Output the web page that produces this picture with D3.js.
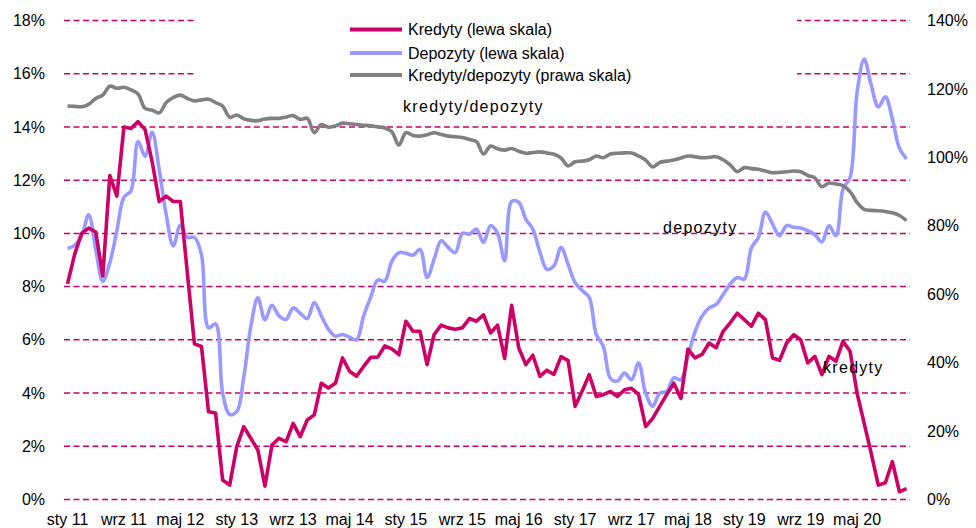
<!DOCTYPE html>
<html>
<head>
<meta charset="utf-8">
<script src="https://cdn.jsdelivr.net/npm/d3@7"></script>
<style>
  body { margin: 0; background: #fff; }
  svg { display: block; font-family: "Liberation Sans", Arial, sans-serif; }
</style>
</head>
<body>
<div id="chart"></div>
<script>
// month names used to build the categories (Jan 2011 - Dec 2020)
var monthNames = ["sty","lut","mar","kwi","maj","cze","lip","sie","wrz","paź","lis","gru"];
var years = ["11","12","13","14","15","16","17","18","19","20"];
var months = [];
years.forEach(function(y) { monthNames.forEach(function(m) { months.push(m + " " + y); }); });

// x tick labels shown (every 8 months)
var xTickLabels = ["sty 11","wrz 11","maj 12","sty 13","wrz 13","maj 14","sty 15","wrz 15",
  "maj 16","sty 17","wrz 17","maj 18","sty 19","wrz 19","maj 20"];
var leftTicks = [0, 2, 4, 6, 8, 10, 12, 14, 16, 18];
var rightTicks = [0, 20, 40, 60, 80, 100, 120, 140];

// Kredyty, % r/r (lewa skala)
var kredyty = [
  8.1, 9.2, 10.0, 10.2, 10.05, 8.4, 12.17, 11.4, 14.0, 13.94,
  14.2, 13.9, 12.7, 11.2, 11.4, 11.2, 11.2, 8.5, 5.85, 5.75,
  3.3, 3.25, 0.73, 0.54, 1.98, 2.74, 2.3, 1.86, 0.5, 2.05,
  2.3, 2.17, 2.86, 2.36, 2.99, 3.18, 4.37, 4.19, 4.37, 5.32,
  4.82, 4.63, 5.0, 5.34, 5.35, 5.77, 5.66, 5.44, 6.7, 6.32,
  6.32, 5.07, 6.2, 6.55, 6.45, 6.4, 6.45, 6.8, 6.7, 6.94,
  6.26, 6.55, 5.3, 7.3, 5.7, 5.07, 5.42, 4.63, 4.86, 4.7,
  5.37, 5.22, 3.5, 4.08, 4.69, 3.87, 3.94, 4.06, 3.87, 4.12,
  4.18, 3.95, 2.74, 3.05, 3.5, 3.95, 4.37, 3.8, 5.65, 5.32,
  5.45, 5.88, 5.7, 6.32, 6.64, 7.0, 6.76, 6.51, 7.0, 6.75,
  5.32, 5.23, 5.88, 6.19, 6.0, 5.13, 5.38, 4.69, 5.38, 5.19,
  5.95, 5.57, 3.99, 2.86, 1.73, 0.54, 0.63, 1.42, 0.29, 0.41
];

// Depozyty, % r/r (lewa skala)
var depozyty = [
  9.43, 9.55, 9.9, 10.7, 9.4, 8.2, 8.9, 10.1, 11.36, 11.6,
  13.45, 12.9, 13.8, 12.4, 10.7, 9.53, 10.3, 9.85, 9.85, 9.2,
  6.45, 6.6, 4.0, 3.2, 3.3, 4.6, 6.5, 7.58, 6.75, 7.3,
  6.9, 6.77, 7.2, 7.0, 6.8, 7.4, 6.9, 6.4, 6.14, 6.2,
  6.1, 6.0, 6.9, 7.6, 8.25, 8.2, 8.95, 9.28, 9.25, 9.18,
  9.4, 8.34, 9.03, 9.72, 9.47, 9.28, 10.0, 9.97, 10.16, 9.66,
  10.29, 10.0, 8.97, 11.2, 11.17, 10.54, 10.16, 9.3, 8.65, 8.78,
  9.47, 8.84, 8.15, 7.85, 7.6, 6.2, 5.76, 4.55, 4.45, 4.75,
  4.5, 5.13, 4.0, 3.5, 4.0, 4.06, 4.57, 4.5, 5.38, 6.3,
  6.89, 7.2, 7.33, 7.7, 8.1, 8.34, 8.28, 9.45, 9.85, 10.8,
  10.35, 9.91, 10.29, 10.23, 10.2, 10.1, 9.95, 9.68, 10.29, 9.91,
  11.67, 12.1, 15.3, 16.55, 15.57, 14.75, 15.13, 14.3, 13.2, 12.8
];

// Kredyty/depozyty, % (prawa skala)
var relacja = [
  115.0, 114.9, 114.8, 115.5, 117.2, 118.2, 120.8, 120.2, 120.5, 119.7,
  118.5, 114.3, 113.8, 113.0, 116.0, 117.5, 118.2, 117.2, 116.5, 116.8,
  117.0, 116.0, 115.0, 111.7, 112.4, 111.3, 110.8, 110.7, 111.2, 111.4,
  111.4, 111.8, 112.2, 111.1, 111.4, 107.2, 109.6, 108.8, 109.2, 110.0,
  109.8, 109.6, 109.4, 109.2, 108.9, 108.6, 107.5, 103.6, 107.2, 106.4,
  106.2, 106.6, 107.2, 106.7, 106.2, 106.0, 105.8, 105.2, 104.6, 101.0,
  103.3, 102.5, 102.1, 102.6, 101.8, 101.2, 101.4, 101.6, 101.3, 100.9,
  99.8, 97.5, 98.7, 98.9, 99.3, 100.4, 99.9, 101.0, 101.2, 101.3,
  101.3, 100.4, 99.2, 97.2, 98.5, 98.9, 99.2, 99.8, 100.4, 100.2,
  99.9, 100.0, 100.2, 99.3, 97.8, 95.8, 97.0, 96.7, 96.5, 96.0,
  95.5, 95.6, 95.8, 96.0, 95.8, 94.7, 94.0, 91.4, 92.5, 92.2,
  91.7, 90.0, 86.8, 84.8, 84.5, 84.4, 84.2, 83.8, 83.0, 81.5
];

var seriesNames = ["Kredyty (lewa skala)", "Depozyty (lewa skala)", "Kredyty/depozyty (prawa skala)"];
var colors = ["#cc0066", "#9999ff", "#808080"];

// chart dimensions
var width = 976, height = 528;
var plotLeft = 64, plotRight = 910, plotTop = 20.5, plotBottom = 499.5;

var svg = d3.select('#chart').append('svg')
  .attr('width', width)
  .attr('height', height);

var x = d3.scaleBand().domain(months).range([plotLeft, plotRight]);
var xc = function(i) { return x(months[i]) + x.bandwidth() / 2; };
var yL = d3.scaleLinear().domain([0, 18]).range([plotBottom, plotTop]);
var yR = d3.scaleLinear().domain([0, 140]).range([plotBottom, plotTop]);

// dashed gridlines (left scale)
svg.append('g').selectAll('line')
  .data(leftTicks).enter().append('line')
  .attr('x1', plotLeft).attr('x2', plotRight)
  .attr('y1', function(d) { return yL(d); })
  .attr('y2', function(d) { return yL(d); })
  .attr('stroke', '#cc0066')
  .attr('stroke-width', 1.5)
  .attr('stroke-dasharray', '6,3.5');

// white legend box covers the upper gridlines
svg.append('rect')
  .attr('x', 196).attr('y', 4)
  .attr('width', 601).attr('height', 82)
  .attr('fill', '#fff');

// axes (labels only)
var axL = svg.append('g')
  .attr('transform', 'translate(45,0)')
  .call(d3.axisLeft(yL).tickValues(leftTicks).tickSize(0).tickPadding(0)
    .tickFormat(function(d) { return d + '%'; }));
var axR = svg.append('g')
  .attr('transform', 'translate(927,0)')
  .call(d3.axisRight(yR).tickValues(rightTicks).tickSize(0).tickPadding(0)
    .tickFormat(function(d) { return d + '%'; }));
var axB = svg.append('g')
  .attr('transform', 'translate(0,' + 514 + ')')
  .call(d3.axisBottom(x).tickValues(xTickLabels).tickSize(0).tickPadding(0));

[axL, axR, axB].forEach(function(a) {
  a.select('.domain').remove();
  a.selectAll('text').attr('fill', '#000').style('font-size', '16px')
    .style('font-family', '"Liberation Sans", Arial, sans-serif');
});

// lines
var lineLeft = function(curve) {
  return d3.line().x(function(d, i) { return xc(i); }).y(function(d) { return yL(d); }).curve(curve);
};
var lineRight = d3.line().x(function(d, i) { return xc(i); }).y(function(d) { return yR(d); })
  .curve(d3.curveCatmullRom.alpha(0.5));

svg.append('path').datum(depozyty)
  .attr('d', lineLeft(d3.curveCatmullRom.alpha(0.5)))
  .attr('fill', 'none').attr('stroke', colors[1]).attr('stroke-width', 3.6)
  .attr('stroke-linejoin', 'round');

svg.append('path').datum(kredyty)
  .attr('d', lineLeft(d3.curveLinear))
  .attr('fill', 'none').attr('stroke', colors[0]).attr('stroke-width', 3.6)
  .attr('stroke-linejoin', 'round');

svg.append('path').datum(relacja)
  .attr('d', lineRight)
  .attr('fill', 'none').attr('stroke', colors[2]).attr('stroke-width', 3.6)
  .attr('stroke-linejoin', 'round');

// legend
var legend = svg.append('g').selectAll('g')
  .data(seriesNames).enter().append('g')
  .attr('transform', function(d, i) { return 'translate(350,' + [29.5, 53, 75][i] + ')'; });
legend.append('line')
  .attr('x1', 0).attr('x2', 52).attr('y1', 0).attr('y2', 0)
  .attr('stroke', function(d, i) { return colors[i]; })
  .attr('stroke-width', 4);
legend.append('text')
  .attr('x', 58).attr('dy', '0.35em')
  .style('font-size', '16px')
  .attr('fill', '#000')
  .text(function(d) { return d; });

// annotations
var notes = [
  {t: 'kredyty/depozyty', x: 403, y: 112},
  {t: 'depozyty', x: 663, y: 233},
  {t: 'kredyty', x: 823, y: 373}
];
svg.append('g').selectAll('text')
  .data(notes).enter().append('text')
  .attr('x', function(d) { return d.x; })
  .attr('y', function(d) { return d.y; })
  .style('font-size', '16px')
  .style('letter-spacing', '1.3px')
  .attr('fill', '#000')
  .text(function(d) { return d.t; });
</script>
</body>
</html>
